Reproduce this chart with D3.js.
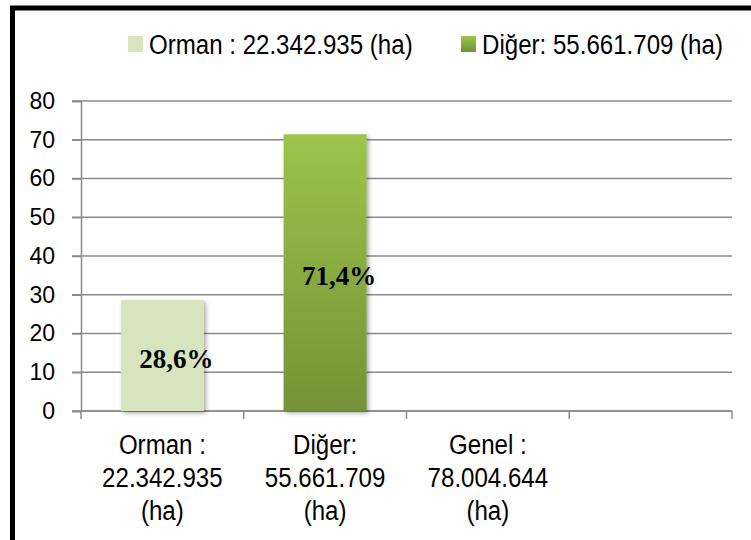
<!DOCTYPE html>
<html>
<head>
<meta charset="utf-8">
<script src="https://cdn.jsdelivr.net/npm/d3@7"></script>
<style>
body{margin:0;background:#fff;}
svg{display:block;}
.cond{font-family:"Liberation Sans",Arial,sans-serif;}
</style>
</head>
<body>
<svg id="chart" width="751" height="540"></svg>
<script>
// data
var categories = ["Orman :\n22.342.935\n(ha)", "Diğer:\n55.661.709\n(ha)", "Genel :\n78.004.644\n(ha)", ""];
var values = [28.6, 71.4, null, null];
var seriesNames = ["Orman : 22.342.935 (ha)", "Diğer: 55.661.709 (ha)"];
var yTicks = [0, 10, 20, 30, 40, 50, 60, 70, 80];

var svg = d3.select("#chart");
var pLeft = 81, pRight = 732, pTop = 101, pBottom = 411;
var squeeze = 0.86; // narrow look of the original font

var defs = svg.append("defs");
var grad = defs.append("linearGradient").attr("id", "gDiger")
  .attr("x1", 0).attr("y1", 0).attr("x2", 0).attr("y2", 1);
grad.append("stop").attr("offset", "0%").attr("stop-color", "#9cc44b");
grad.append("stop").attr("offset", "100%").attr("stop-color", "#749237");
var sh = defs.append("filter").attr("id", "shadow")
  .attr("x", "-20%").attr("y", "-20%").attr("width", "150%").attr("height", "150%");
sh.append("feDropShadow").attr("dx", 2).attr("dy", 2).attr("stdDeviation", 2)
  .attr("flood-color", "#000").attr("flood-opacity", 0.35);

var fills = ["#d7e4bd", "url(#gDiger)"];

// outer frame (right and bottom run off the picture)
svg.append("rect").attr("x", 12.5).attr("y", 8).attr("width", 800).attr("height", 600)
  .attr("fill", "none").attr("stroke", "#000").attr("stroke-width", 5);

var x = d3.scaleBand().domain(categories).range([pLeft, pRight])
  .paddingInner(0.49).paddingOuter(0.245);
var y = d3.scaleLinear().domain([0, 80]).range([pBottom, pTop]);

// gridlines
svg.append("g").selectAll("line").data(yTicks).join("line")
  .attr("x1", pLeft - 9).attr("x2", pRight)
  .attr("y1", function(d){ return y(d); }).attr("y2", function(d){ return y(d); })
  .attr("stroke", "#8a8a8a").attr("stroke-width", 1.5);

// y axis
var yAxis = svg.append("g").attr("transform", "translate(" + pLeft + ",0)")
  .call(d3.axisLeft(y).tickValues(yTicks).tickSize(9).tickPadding(17));
yAxis.selectAll("path,line").attr("stroke", "#8a8a8a").attr("stroke-width", 1.5);
yAxis.selectAll("text").attr("font-family", "Liberation Sans, Arial, sans-serif")
  .attr("font-size", 23).attr("fill", "#000");

// x axis: ticks at band boundaries
var step = x.step();
var bounds = d3.range(categories.length + 1).map(function(i){ return pLeft + i * step; });
svg.append("line").attr("x1", pLeft).attr("x2", pRight).attr("y1", pBottom).attr("y2", pBottom)
  .attr("stroke", "#8a8a8a").attr("stroke-width", 1.5);
svg.append("g").selectAll("line").data(bounds).join("line")
  .attr("x1", function(d){ return d; }).attr("x2", function(d){ return d; })
  .attr("y1", pBottom).attr("y2", pBottom + 8)
  .attr("stroke", "#8a8a8a").attr("stroke-width", 1.5);

var catText = svg.append("g").attr("class", "cond").selectAll("text").data(categories).join("text")
  .attr("transform", function(d){
    return "translate(" + (x(d) + x.bandwidth() / 2) + ",454) scale(" + squeeze + ",1)";
  })
  .attr("text-anchor", "middle").attr("font-size", 28).attr("fill", "#000");
catText.selectAll("tspan").data(function(d){ return d ? d.split("\n") : []; }).join("tspan")
  .attr("x", 0)
  .attr("dy", function(d, i){ return i ? 33 : 0; })
  .text(function(d){ return d; });

// bars
var barData = categories.map(function(c, i){ return {c: c, v: values[i], i: i}; })
  .filter(function(d){ return d.v != null; });
svg.append("g").selectAll("rect").data(barData).join("rect")
  .attr("x", function(d){ return x(d.c); })
  .attr("width", x.bandwidth())
  .attr("y", function(d){ return y(d.v); })
  .attr("height", function(d){ return y(0) - y(d.v); })
  .attr("fill", function(d){ return fills[d.i]; })
  .attr("filter", "url(#shadow)");

// value labels
var fmt = d3.formatLocale({decimal: ",", thousands: ".", grouping: [3], currency: ["", ""]}).format(".1f");
svg.append("g").selectAll("text").data(barData).join("text")
  .attr("x", function(d){ return x(d.c) + x.bandwidth() / 2 + 14; })
  .attr("y", function(d){ return (y(d.v) + y(0)) / 2 + 12; })
  .attr("text-anchor", "middle")
  .attr("font-family", "Liberation Serif, Times New Roman, serif")
  .attr("font-weight", "bold").attr("font-size", 27).attr("fill", "#000")
  .text(function(d){ return fmt(d.v) + "%"; });

// legend
var legX = [128, 461];
var leg = svg.append("g").attr("class", "cond").selectAll("g").data(seriesNames).join("g")
  .attr("transform", function(d, i){ return "translate(" + legX[i] + ",36)"; });
leg.append("rect").attr("width", 15).attr("height", 16)
  .attr("fill", function(d, i){ return fills[i]; });
leg.append("text").attr("transform", "translate(21,18) scale(" + squeeze + ",1)")
  .attr("font-size", 28).attr("fill", "#000")
  .text(function(d){ return d; });
</script>
</body>
</html>
